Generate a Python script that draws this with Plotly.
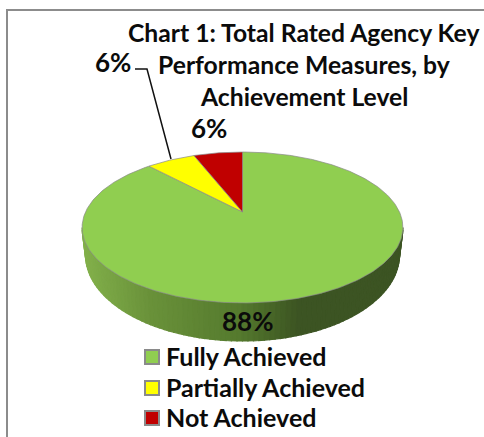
import numpy as np
import plotly.graph_objects as go

categories = ["Fully Achieved", "Partially Achieved", "Not Achieved"]
values = [88, 6, 6]
colors = ["#90CE50", "#FFFF00", "#C00000"]
title_lines = ["Chart 1: Total Rated Agency Key", "Performance Measures, by", "Achievement Level"]

FONT = "Lato, Carlito, Calibri, sans-serif"
INK = "#0b0b0b"
EDGE = "#8a8a8a"

# pie geometry (perspective projection of a disc, in page pixels)
CX, CY, A, B, K = 242.5, 212.0, 157.0, 72.3, 0.205
def project(theta):
    u, v = np.sin(theta), np.cos(theta)
    w = 1 + K * v
    return CX + A * u / w, CY - B * v / w

def upper(phi):
    return 242.5 + 160.5 * np.cos(phi), 227.5 + 75.5 * np.sin(phi)
def lower(phi):
    return 242.5 + 157.0 * np.cos(phi), 255.0 + 86.0 * np.sin(phi)

grad_x = [80, 150, 240, 300, 405]
grad_r = [132, 106, 85, 60, 60]
grad_g = [178, 146, 122, 84, 84]
grad_b = [76, 58, 46, 35, 35]

fig = go.Figure()

# side wall
phis = np.linspace(np.pi, 0, 91)
for p0, p1 in zip(phis[:-1], phis[1:]):
    x0, y0 = upper(p0); x1, y1 = upper(p1)
    x2, y2 = lower(p1); x3, y3 = lower(p0)
    xm = (x0 + x1) / 2
    c = "rgb(%d,%d,%d)" % (np.interp(xm, grad_x, grad_r), np.interp(xm, grad_x, grad_g), np.interp(xm, grad_x, grad_b))
    fig.add_trace(go.Scatter(x=[x0, x1, x2, x3, x0], y=[y0, y1, y2, y3, y0], mode="lines", fill="toself",
                             fillcolor=c, line=dict(color=c, width=1.2), showlegend=False, hoverinfo="skip"))

# top slices: clockwise from 12 o'clock
total = sum(values)
start = 0.0
for name, val, col in zip(categories, values, colors):
    th = np.linspace(start, start + val / total * 2 * np.pi, max(int(val * 4), 12))
    px, py = project(th)
    fig.add_trace(go.Scatter(x=np.r_[CX, px, CX], y=np.r_[CY, py, CY], mode="lines", fill="toself", name=name,
                             fillcolor=col, line=dict(color=EDGE, width=0.7), showlegend=False, hoverinfo="skip"))
    start += val / total * 2 * np.pi

# legend keys and labels
legend_y = [357, 388, 418]
fig.add_trace(go.Scatter(x=[152, 152, 152], y=legend_y, mode="markers", showlegend=False, hoverinfo="skip",
                         marker=dict(symbol="square", size=14, color=colors, line=dict(color=EDGE, width=2))))
for name, y in zip(categories, legend_y):
    fig.add_annotation(x=164, y=y - 1, text=name, showarrow=False, xanchor="left", xref="x", yref="y",
                       font=dict(family=FONT, size=25, color=INK, weight="bold"))

# leader line
fig.add_shape(type="path", path="M 135 69 L 147 69 L 171 159", line=dict(color="#111111", width=1.5))
# chart frame
fig.add_shape(type="line", x0=7, x1=484, y0=10, y1=10, line=dict(color="#8c8c8c", width=2))
fig.add_shape(type="line", x0=7, x1=7, y0=9, y1=437, line=dict(color="#8c8c8c", width=2))

for line, y in zip(title_lines, [32, 64, 96]):
    fig.add_annotation(x=304, y=y, text=line, showarrow=False, xref="x", yref="y",
                       font=dict(family=FONT, size=24.7, color=INK, weight="bold"))
for text, x, y in [("6%", 113, 62), ("6%", 209, 128), ("88%", 247, 321)]:
    fig.add_annotation(x=x, y=y, text=text, showarrow=False, xref="x", yref="y",
                       font=dict(family=FONT, size=26, color=INK, weight="bold"))

fig.update_layout(
    width=484, height=437, margin=dict(l=0, r=0, t=0, b=0),
    paper_bgcolor="white", plot_bgcolor="white", showlegend=False,
    xaxis=dict(range=[0, 484], visible=False, fixedrange=True),
    yaxis=dict(range=[437, 0], visible=False, fixedrange=True),
)
fig.write_html("out.html", config=dict(displayModeBar=False),
               post_script="document.body.style.margin='0';document.documentElement.style.overflow='hidden';")
